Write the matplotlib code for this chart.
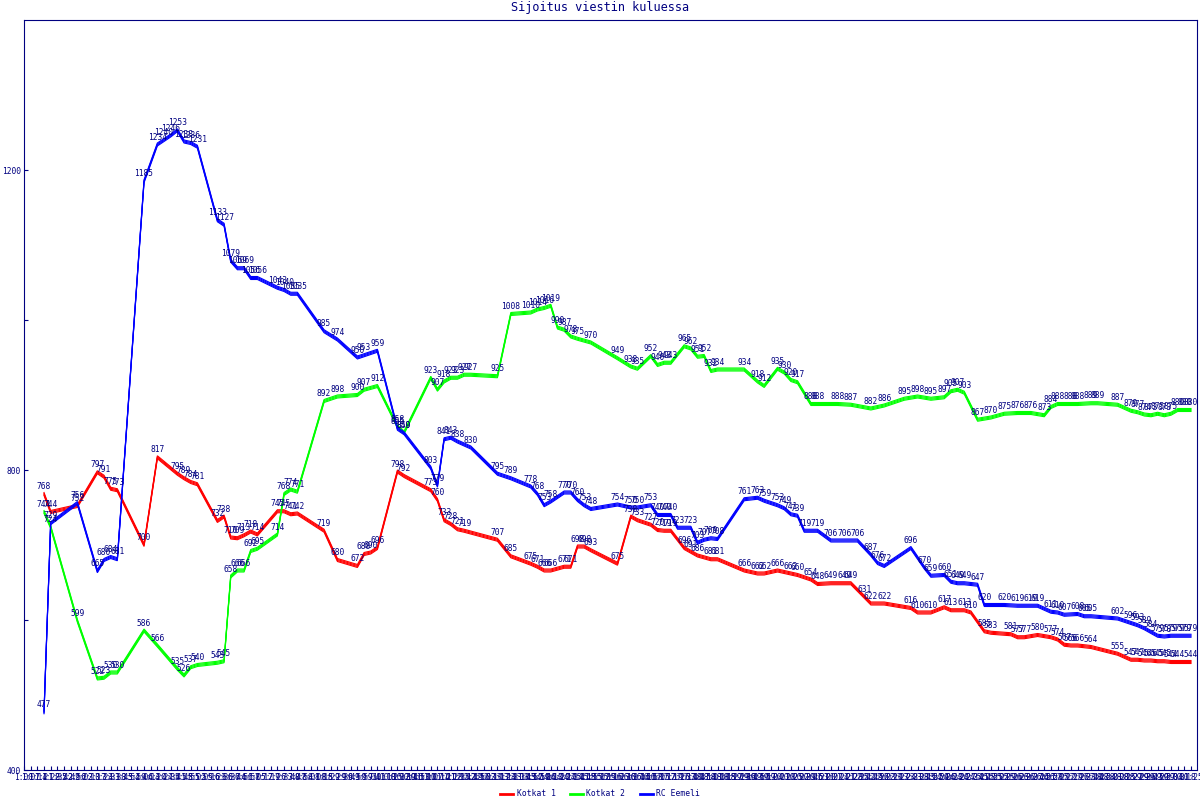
import matplotlib
matplotlib.use("Agg")
import matplotlib.pyplot as plt
import matplotlib.transforms as mtransforms
from matplotlib.lines import Line2D

# rastipisteet (kategoriat) ja sijoitukset
red_idx = [0, 1, 5, 8, 9, 10, 11, 15, 17, 20, 21, 22, 23, 26, 27, 28, 29, 30, 31, 32,
           35, 36, 37, 38, 42, 44, 47, 48, 49, 50, 53, 54, 58, 59, 60, 61, 62, 63, 68, 70,
           73, 74, 75, 76, 78, 79, 80, 81, 82, 86, 88, 89, 91, 92, 93, 94, 96, 97, 98, 100,
           101, 105, 107, 108, 110, 112, 113, 115, 116, 118, 120, 121, 123, 124, 126, 130, 131, 133, 135, 136,
           138, 139, 141, 142, 145, 146, 147, 149, 151, 152, 153, 154, 155, 157, 161, 163, 164, 165, 166, 167,
           168, 169, 170, 172]
red_val = [768, 744, 752, 797, 791, 775, 773, 700, 817, 795, 789, 784, 781, 732, 738, 710, 709, 713, 718, 714,
           745, 745, 741, 742, 719, 680, 672, 688, 690, 696, 798, 792, 773, 760, 733, 728, 721, 719, 707, 685,
           675, 671, 666, 666, 671, 671, 698, 698, 693, 675, 738, 733, 727, 720, 719, 719, 696, 691, 686, 681,
           681, 666, 662, 662, 666, 662, 660, 654, 648, 649, 649, 649, 631, 622, 622, 616, 610, 610, 617, 613,
           613, 610, 585, 583, 581, 577, 577, 580, 577, 574, 567, 566, 566, 564, 555, 547, 547, 546, 546, 545,
           545, 544, 544, 544]

green_idx = [0, 1, 5, 8, 9, 10, 11, 15, 17, 20, 21, 22, 23, 26, 27, 28, 29, 30, 31, 32,
             35, 36, 37, 38, 42, 44, 47, 48, 50, 53, 54, 58, 59, 60, 61, 62, 63, 64, 68, 70,
             73, 74, 75, 76, 77, 78, 79, 80, 82, 86, 88, 89, 91, 92, 93, 94, 96, 97, 98, 99,
             100, 101, 105, 107, 108, 110, 111, 112, 113, 115, 116, 119, 121, 124, 126, 129, 131, 133, 135, 136,
             137, 138, 140, 142, 144, 146, 148, 150, 151, 152, 154, 155, 157, 158, 161, 163, 164, 165, 166, 167,
             168, 169, 170, 171, 172]
green_val = [744, 724, 599, 522, 523, 530, 530, 586, 566, 535, 526, 537, 540, 543, 545, 658, 666, 666, 692, 695,
             714, 768, 774, 771, 892, 898, 900, 907, 912, 858, 850, 923, 907, 918, 923, 923, 927, 927, 925, 1008,
             1010, 1014, 1016, 1019, 990, 987, 978, 975, 970, 949, 938, 935, 952, 940, 943, 943, 965, 962, 951, 952,
             932, 934, 934, 918, 912, 935, 930, 920, 917, 888, 888, 888, 887, 882, 886, 895, 898, 895, 897, 905,
             907, 903, 867, 870, 875, 876, 876, 873, 884, 888, 888, 888, 889, 889, 887, 879, 877, 874, 873, 875,
             873, 875, 880, 880, 880]

blue_idx = [0, 1, 5, 8, 9, 10, 11, 15, 17, 18, 19, 20, 21, 22, 23, 26, 27, 28, 29, 30,
            31, 32, 35, 36, 37, 38, 42, 44, 47, 48, 50, 53, 54, 58, 59, 60, 61, 62, 64, 68,
            70, 73, 74, 75, 76, 78, 79, 80, 81, 82, 86, 88, 89, 91, 92, 93, 94, 95, 97, 98,
            99, 100, 101, 105, 107, 108, 110, 111, 112, 113, 114, 116, 118, 120, 122, 124, 125, 126, 130, 132,
            133, 135, 136, 137, 138, 140, 141, 144, 146, 148, 149, 151, 152, 153, 155, 156, 157, 161, 163, 164,
            165, 166, 167, 168, 169, 170, 171, 172]
blue_val = [477, 729, 756, 665, 680, 684, 681, 1185, 1234, 1240, 1246, 1253, 1238, 1236, 1231, 1133, 1127, 1079, 1069, 1069,
            1056, 1056, 1043, 1040, 1035, 1035, 985, 974, 950, 953, 959, 855, 849, 803, 779, 841, 843, 838, 830, 795,
            789, 778, 768, 753, 758, 770, 770, 760, 753, 748, 754, 750, 750, 753, 740, 740, 740, 723, 723, 703,
            707, 709, 708, 761, 763, 759, 753, 749, 741, 739, 719, 719, 706, 706, 706, 687, 676, 672, 696, 670,
            659, 660, 651, 649, 649, 647, 620, 620, 619, 619, 619, 611, 610, 607, 608, 605, 605, 602, 596, 593,
            589, 584, 579, 578, 579, 579, 579, 579]

series = [("Kotkat 1", red_idx, red_val, "#ff0000"),
          ("Kotkat 2", green_idx, green_val, "#00ff00"),
          ("RC Eemeli", blue_idx, blue_val, "#0000ff")]

x_ticks = list(range(-3, 173))
x_labels = ["%d:%02d" % (t // 6 + 1, (t * 7) % 60) for t in range(len(x_ticks))]

navy = "#000080"
mono = "DejaVu Sans Mono"

fig = plt.figure(figsize=(12, 8), dpi=100)
ax = fig.add_axes([0.02, 0.0375, 0.9775, 0.9375])

# "pystysivellin": sama viiva muutamalla pystysiirrolla
for name, xs, ys, col in series:
    for dy in (-1.5, -0.5, 0.5, 1.5):
        tr = mtransforms.offset_copy(ax.transData, fig=fig, x=0, y=dy, units="dots")
        ax.plot(xs, ys, color=col, lw=0.8, transform=tr, solid_joinstyle="miter", zorder=2)

for name, xs, ys, col in series:
    for x, y in zip(xs, ys):
        ax.annotate(str(y), (x, y), xytext=(0, 2), textcoords="offset points",
                    ha="center", va="bottom", fontsize=5.7, family=mono, color=navy, zorder=3)

ax.set_xlim(-3, 172.9)
ax.set_ylim(400, 1400)
ax.set_yticks([400, 600, 800, 1000, 1200])
ax.set_yticklabels(["400", "", "800", "", "1200"])
ax.set_xticks(x_ticks)
ax.set_xticklabels(x_labels)
ax.tick_params(axis="both", direction="in", length=3, width=0.8, color=navy,
               labelcolor=navy, labelsize=5.7, pad=2)
for lab in ax.get_xticklabels() + ax.get_yticklabels():
    lab.set_family(mono)
for sp in ax.spines.values():
    sp.set_color(navy)
    sp.set_linewidth(0.8)

fig.text(0.5, 1 - 8 / 800, "Sijoitus viestin kuluessa", ha="center", va="center",
         fontsize=8.6, family=mono, color=navy)

handles = [Line2D([], [], color=c, lw=2) for _, _, _, c in series]
fig.legend(handles, [s[0] for s in series], loc="center", bbox_to_anchor=(0.5, 1 - 794 / 800),
           ncol=3, frameon=False, handlelength=1.6, handletextpad=0.4, columnspacing=1.8,
           prop={"family": mono, "size": 5.8}, labelcolor=navy)

fig.savefig("out.png", dpi=100)
